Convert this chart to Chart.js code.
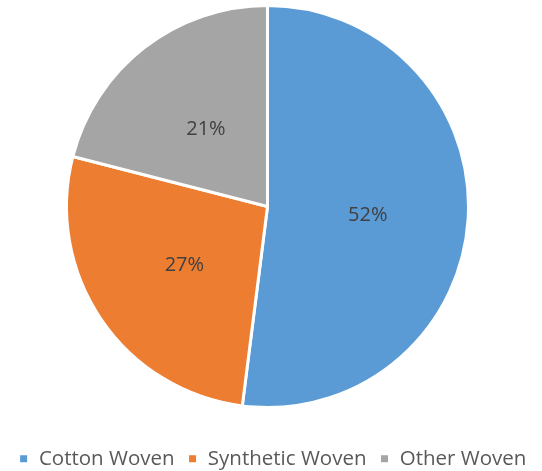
<!DOCTYPE html>
<html>
<head>
<meta charset="utf-8">
<script src="https://cdn.jsdelivr.net/npm/chart.js@4"></script>
<style>
  html, body { margin: 0; padding: 0; background: #fff; overflow: hidden; }
  #wrap { width: 542px; height: 471px; }
</style>
</head>
<body>
<div id="wrap"><canvas id="pie"></canvas></div>
<script>
const categories = ['Cotton Woven', 'Synthetic Woven', 'Other Woven'];
const shares = [52, 27, 21];
const colours = ['#5B9BD5', '#ED7D31', '#A5A5A5'];

// percent labels in the middle of each slice
const sliceLabels = {
    id: 'sliceLabels',
    afterDatasetsDraw(chart) {
        const ctx = chart.ctx;
        const meta = chart.getDatasetMeta(0);
        ctx.save();
        ctx.font = '20px "Open Sans", sans-serif';
        ctx.fillStyle = '#404040';
        ctx.textAlign = 'center';
        ctx.textBaseline = 'middle';
        meta.data.forEach(function(arc, i) {
            const p = arc.tooltipPosition();
            ctx.fillText(shares[i] + '%', p.x, p.y + 2);
        });
        ctx.restore();
    }
};

// legend row sits a bit right of the pie centre in the original
const legendNudge = {
    id: 'legendNudge',
    afterLayout(chart) {
        if (chart.legend) {
            chart.legend.left += 5;
            chart.legend.right += 5;
        }
    }
};

new Chart(document.getElementById('pie'), {
    type: 'pie',
    data: {
        labels: categories,
        datasets: [{
            data: shares,
            backgroundColor: colours,
            borderColor: '#ffffff',
            borderWidth: 3
        }]
    },
    options: {
        responsive: true,
        maintainAspectRatio: false,
        animation: false,
        layout: { padding: { top: 4, bottom: -8, left: 0, right: 7 } },
        plugins: {
            legend: {
                position: 'bottom',
                // empty title only used as spacer above the items
                title: { display: true, text: '', font: { size: 10 }, padding: { top: 14.5, bottom: 0 } },
                labels: {
                    usePointStyle: true,
                    pointStyle: 'rect',
                    pointStyleWidth: 10,
                    boxHeight: 10,
                    padding: 13,
                    color: '#595959',
                    font: { size: 20.5, family: '"Open Sans", sans-serif' }
                }
            },
            tooltip: { enabled: false }
        }
    },
    plugins: [sliceLabels, legendNudge]
});
</script>
</body>
</html>
